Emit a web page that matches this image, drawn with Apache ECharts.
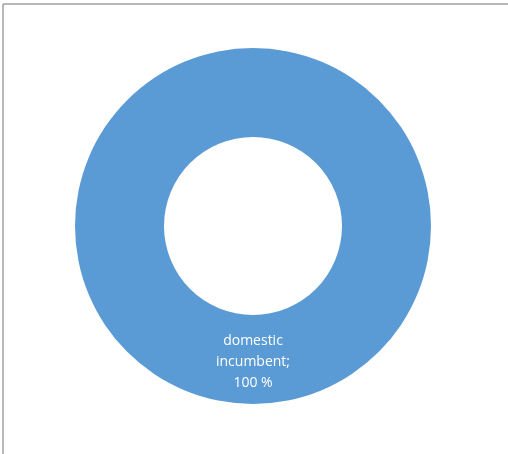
<!DOCTYPE html>
<html>
<head>
<meta charset="utf-8">
<style>
  html, body { margin: 0; padding: 0; background: #ffffff; }
  #chart { width: 508px; height: 454px; }
</style>
<script src="https://cdn.jsdelivr.net/npm/echarts@6/dist/echarts.min.js"></script>
</head>
<body>
<div id="chart"></div>
<script>
// Market share categories and their percentages
const categories = ['domestic incumbent'];
const shares = [100];
const sliceColors = ['#5B9BD5'];

const chart = echarts.init(document.getElementById('chart'), null, { renderer: 'canvas' });

const pieData = categories.map((name, i) => ({
  name: name,
  value: shares[i],
  itemStyle: { color: sliceColors[i] }
}));

chart.setOption({
  animation: false,
  backgroundColor: '#ffffff',
  graphic: [
    // chart-area frame (top and left edges visible)
    { type: 'line', shape: { x1: 3, y1: 4, x2: 508, y2: 4 }, style: { stroke: '#a0a0a0', lineWidth: 1.5 } },
    { type: 'line', shape: { x1: 3, y1: 4, x2: 3, y2: 454 }, style: { stroke: '#a0a0a0', lineWidth: 1.5 } }
  ],
  series: [{
    type: 'pie',
    center: [253, 226],
    radius: [89, 178],
    startAngle: 90,
    clockwise: true,
    data: pieData,
    label: {
      show: true,
      position: 'inside',
      color: '#ffffff',
      fontFamily: 'Open Sans',
      fontSize: 14,
      lineHeight: 21,
      formatter: function (p) {
        return 'domestic\nincumbent;\n' + p.value + ' %';
      }
    },
    labelLine: { show: false },
    emphasis: { disabled: true }
  }]
});
</script>
</body>
</html>
